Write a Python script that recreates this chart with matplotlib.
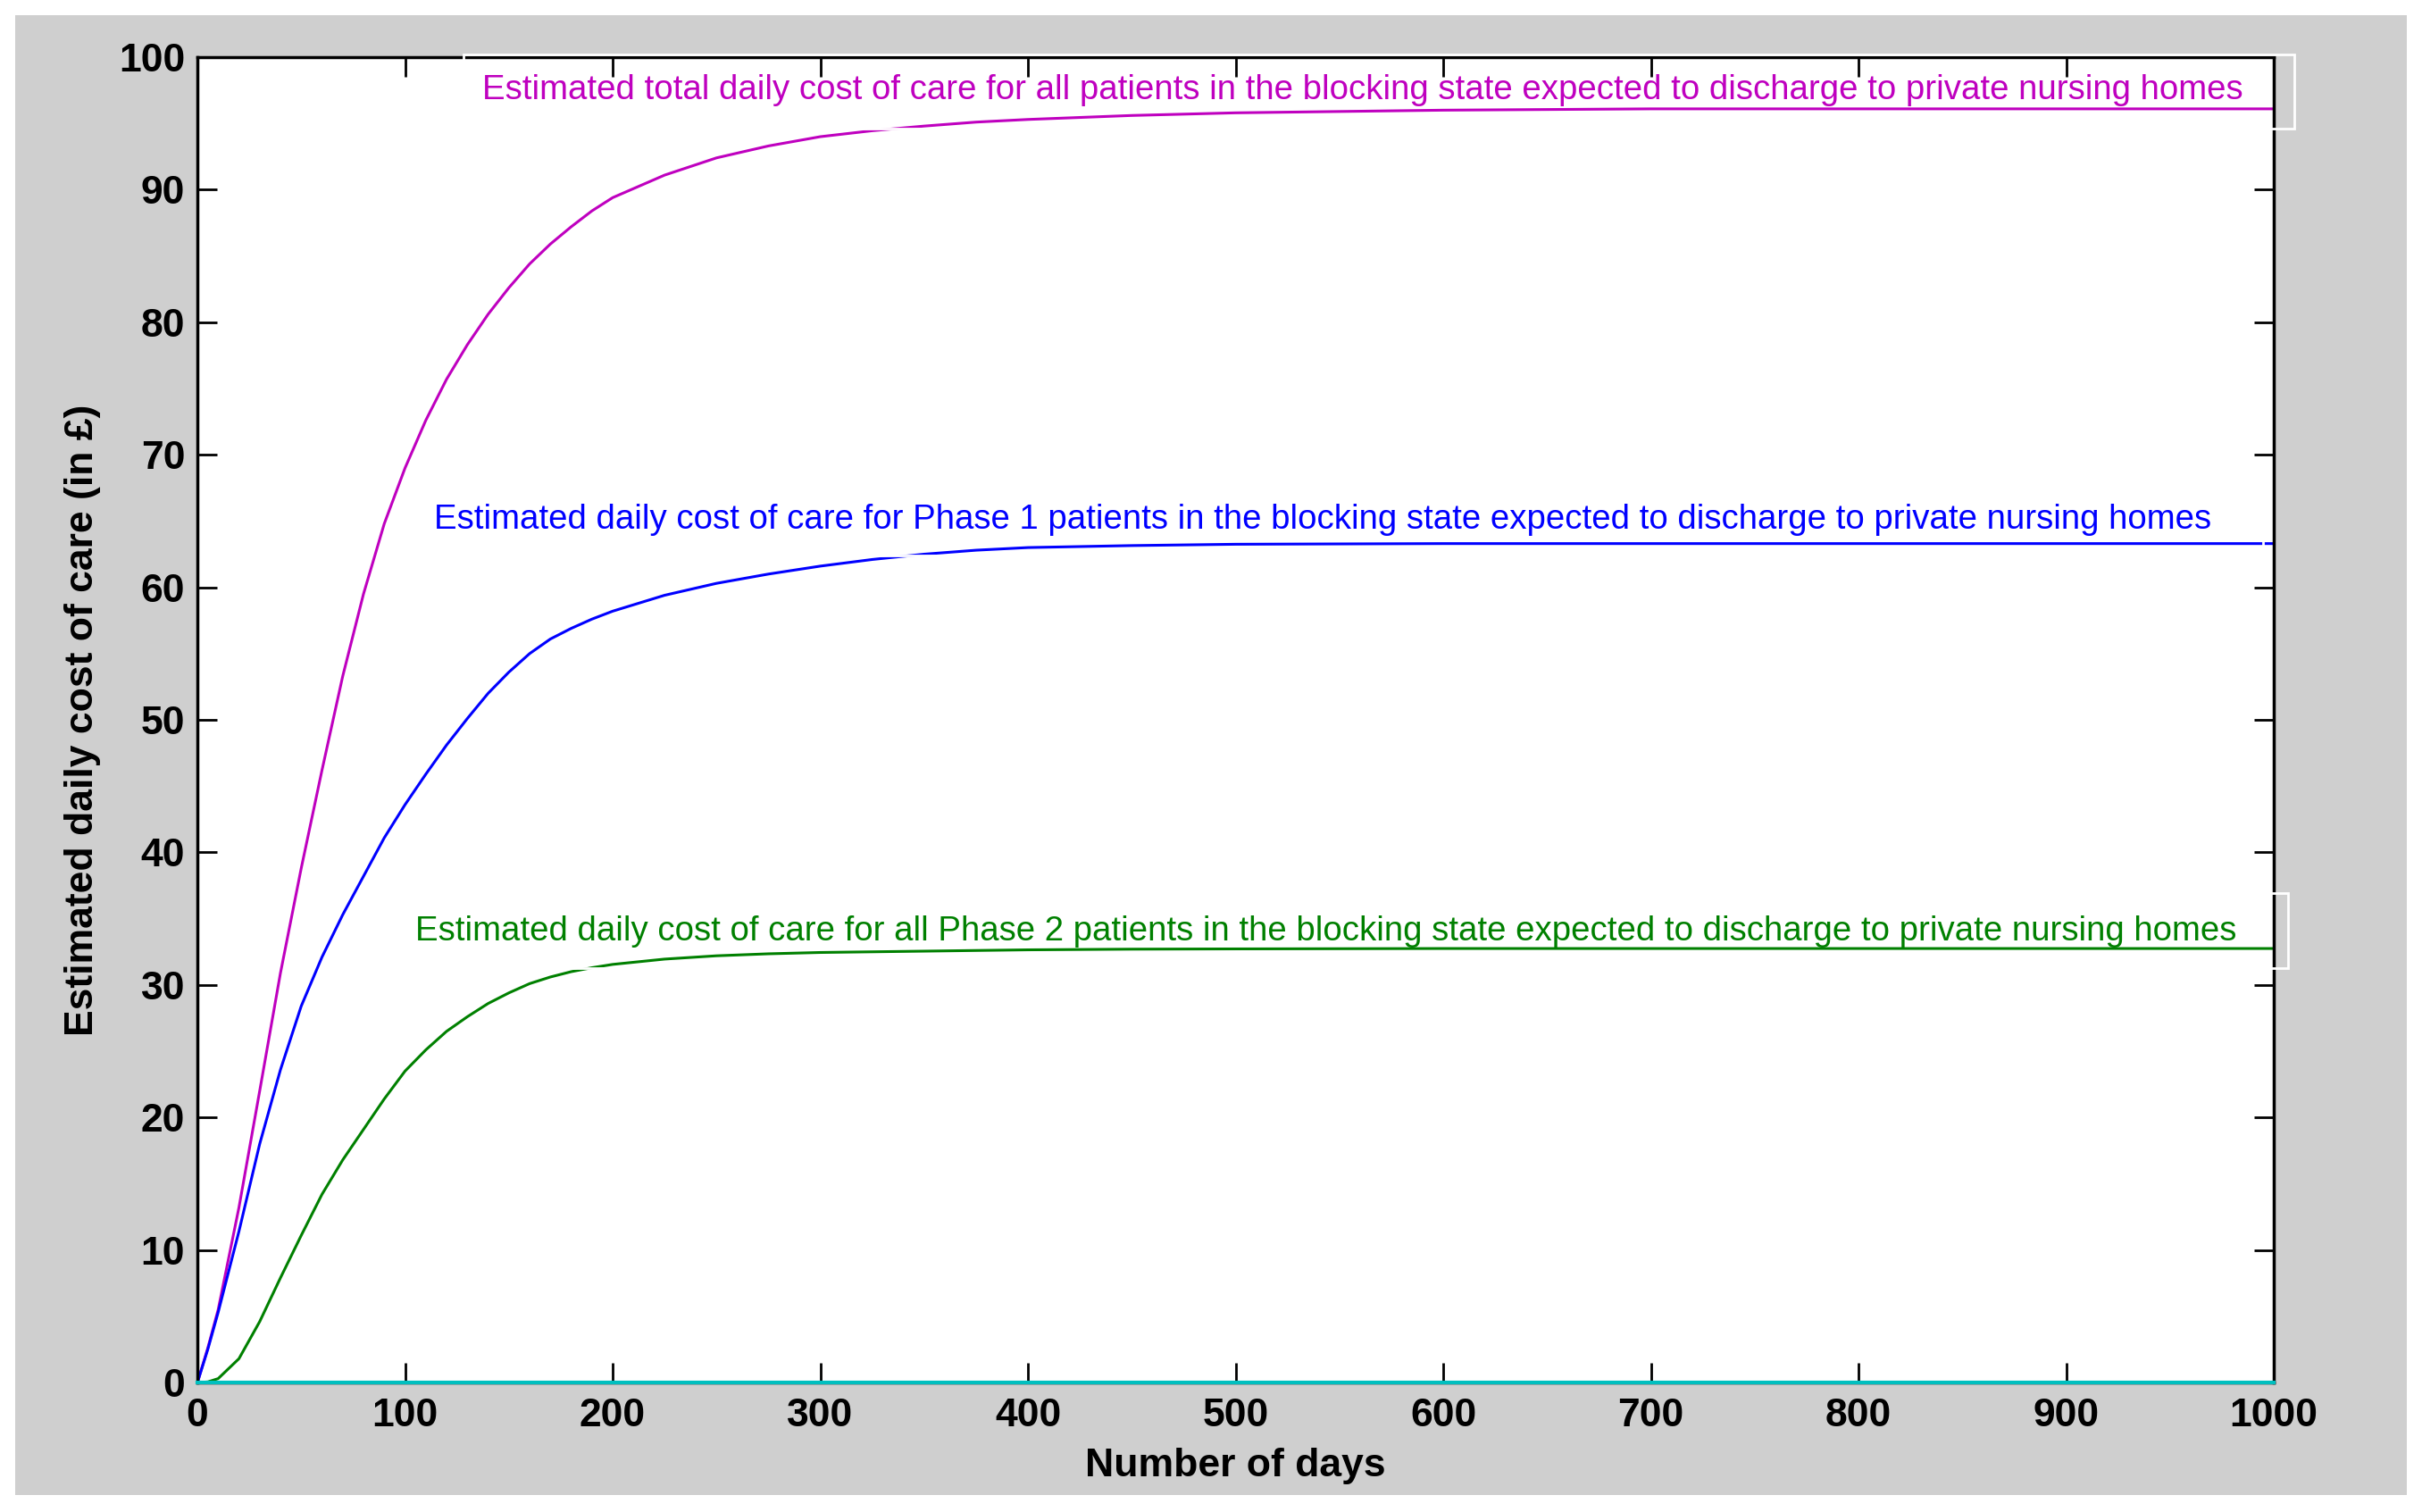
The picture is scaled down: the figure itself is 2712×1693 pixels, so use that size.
import matplotlib
matplotlib.use("Agg")
import matplotlib.pyplot as plt
from matplotlib.patches import Rectangle

# Values
days = [0, 5, 10, 20, 30, 40, 50, 60, 70, 80, 90, 100, 110, 120, 130, 140, 150,
        160, 170, 180, 190, 200, 225, 250, 275, 300, 325, 350, 375, 400, 450,
        500, 600, 700, 800, 900, 1000]

total_cost = [0, 2.6, 5.5, 13.2, 22.0, 30.9, 38.8, 46.2, 53.3, 59.5, 64.8, 69.0,
              72.6, 75.7, 78.3, 80.6, 82.6, 84.4, 85.9, 87.2, 88.4, 89.4, 91.1,
              92.4, 93.3, 94.0, 94.45, 94.8, 95.1, 95.3, 95.6, 95.8, 96.0, 96.1,
              96.1, 96.1, 96.1]

phase1_cost = [0, 2.5, 5.3, 11.4, 18.0, 23.6, 28.4, 32.1, 35.3, 38.2, 41.1, 43.6,
               45.9, 48.1, 50.1, 52.0, 53.6, 55.0, 56.1, 56.9, 57.6, 58.2, 59.4,
               60.3, 61.0, 61.6, 62.1, 62.5, 62.8, 63.0, 63.15, 63.25, 63.3, 63.3,
               63.3, 63.3, 63.3]

phase2_cost = [0, 0.05, 0.3, 1.8, 4.6, 7.9, 11.1, 14.2, 16.8, 19.1, 21.4, 23.5,
               25.1, 26.5, 27.6, 28.6, 29.4, 30.1, 30.6, 31.0, 31.3, 31.55, 31.95,
               32.2, 32.35, 32.45, 32.5, 32.55, 32.6, 32.65, 32.7, 32.72, 32.75,
               32.75, 32.75, 32.75, 32.75]

baseline = [0] * len(days)

labels = [
    "Estimated total daily cost of care for all patients in the blocking state expected to discharge to private nursing homes",
    "Estimated daily cost of care for Phase 1 patients in the blocking state expected to discharge to private nursing homes",
    "Estimated daily cost of care for all Phase 2 patients in the blocking state expected to discharge to private nursing homes",
]
label_x = [137, 114, 105]
label_y = [97.5, 65.1, 34.0]

# white text frames (MATLAB text edge), in data units
box_left = [128, 105, 96]
box_right = [1010, 995, 1007]
box_bottom = [94.6, 62.4, 31.3]
box_height = 5.6

colors = ["#bf00bf", "#0000ff", "#008000"]

plt.rcParams["font.family"] = ["Liberation Sans", "DejaVu Sans"]

fig = plt.figure(figsize=(27.12, 16.93), dpi=100)
fig.patch.set_facecolor("white")
# grey MATLAB-style figure background inside a thin white margin
fig.patches.append(Rectangle((0.0063, 0.0112), 0.9874, 0.9788, transform=fig.transFigure,
                             facecolor="#cfcfcf", edgecolor="none", zorder=-10))

ax = fig.add_axes([0.0815, 0.0856, 0.8573, 0.8766])
ax.set_facecolor("white")

ax.plot(days, total_cost, color=colors[0], lw=2.2)
ax.plot(days, phase1_cost, color=colors[1], lw=2.2)
ax.plot(days, phase2_cost, color=colors[2], lw=2.2)
ax.plot(days, baseline, color="#00bfbf", lw=3, zorder=5, clip_on=False)

for txt, x, y, c in zip(labels, label_x, label_y, colors):
    ax.text(x, y, txt, color=c, fontsize=27.6, ha="left", va="center", zorder=7)

for x0, x1, y0 in zip(box_left, box_right, box_bottom):
    ax.add_patch(Rectangle((x0, y0), x1 - x0, box_height, fill=False,
                           edgecolor="white", lw=2, zorder=6, clip_on=False))

ax.set_xlim(0, 1000)
ax.set_ylim(0, 100)
ax.set_xticks(range(0, 1001, 100))
ax.set_yticks(range(0, 101, 10))

for s in ax.spines.values():
    s.set_linewidth(2.5)
ax.tick_params(direction="in", length=16, width=2, top=True, right=True,
               labelsize=32)
ax.tick_params(axis="x", pad=12)
ax.tick_params(axis="y", pad=10)
for lab in ax.get_xticklabels() + ax.get_yticklabels():
    lab.set_fontweight("bold")

ax.set_xlabel("Number of days", fontsize=32, fontweight="bold", labelpad=11)
ax.set_ylabel("Estimated daily cost of care (in \u00a3)", fontsize=32, fontweight="bold", labelpad=14)

fig.savefig("out.png", dpi=100, facecolor=fig.get_facecolor())
